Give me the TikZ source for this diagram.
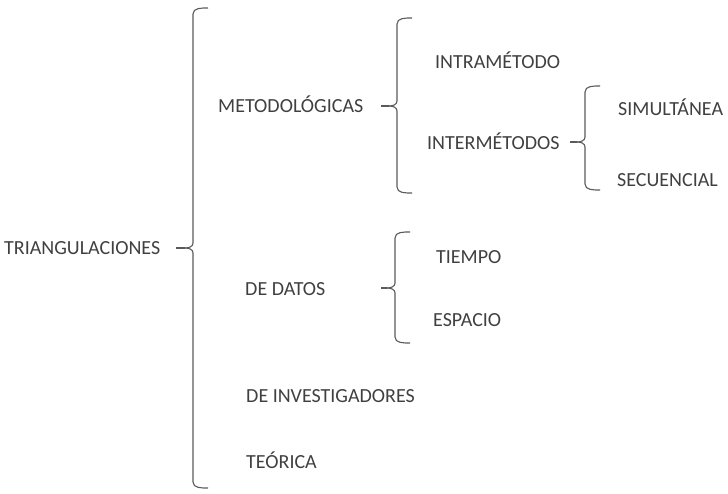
\documentclass[tikz,border=0pt]{standalone}
\usepackage{fontspec}
\setmainfont{Carlito}
\definecolor{txt}{HTML}{404040}
\definecolor{brc}{HTML}{5A5A5A}
\tikzset{
  lbl/.style={anchor=base west, inner sep=0pt, font=\fontsize{20}{21}\selectfont, text=txt},
  conn/.style={draw=brc, line width=1.1pt},
  brc/.style={draw=brc, line width=1.1pt, line join=round}
}
\newcommand{\lbrc}[5]{% x, top, bottom, mid, tipx
  \draw[brc] (#1+15,#2) to[out=180,in=90] (#1,#2+6) -- (#1,#4-5) to[out=-90,in=0] (#5,#4);
  \draw[brc] (#5,#4) to[out=0,in=90] (#1,#4+5) -- (#1,#3-6) to[out=-90,in=180] (#1+15,#3);
}
\begin{document}
\begin{tikzpicture}[x=1pt,y=-1pt]
\useasboundingbox (0,0) rectangle (728,494);
% labels
\node[lbl] (tri) at (4,255) {TRIANGULACIONES};
\node[lbl] (met) at (218,113) {METODOLÓGICAS};
\node[lbl] (dat) at (245,295) {DE DATOS};
\node[lbl] (inv) at (246,402) {DE INVESTIGADORES};
\node[lbl] (teo) at (246,468) {TEÓRICA};
\node[lbl] (intra) at (435,69) {INTRAMÉTODO};
\node[lbl] (inter) at (427,150) {INTERMÉTODOS};
\node[lbl] (sim) at (618,116) {SIMULTÁNEA};
\node[lbl] (sec) at (617,187) {SECUENCIAL};
\node[lbl] (tie) at (436,264) {TIEMPO};
\node[lbl] (esp) at (433,326) {ESPACIO};
% braces
\lbrc{193}{8}{488}{248}{185}
\lbrc{397}{18}{193}{106}{389}
\lbrc{585}{86}{190}{142}{577}
\lbrc{395}{232}{343}{288}{387}
% brace tips
\coordinate (t1) at (185,248);
\coordinate (t2) at (389,106);
\coordinate (t3) at (577,142);
\coordinate (t4) at (387,288);
% connector starts
\coordinate (s1) at (176,248);
\coordinate (s2) at (381,106);
\coordinate (s3) at (570,142);
\coordinate (s4) at (381,288);
% connectors
\draw[conn] (s1) -- (t1);
\draw[conn] (s2) -- (t2);
\draw[conn] (s3) -- (t3);
\draw[conn] (s4) -- (t4);
\end{tikzpicture}
\end{document}
